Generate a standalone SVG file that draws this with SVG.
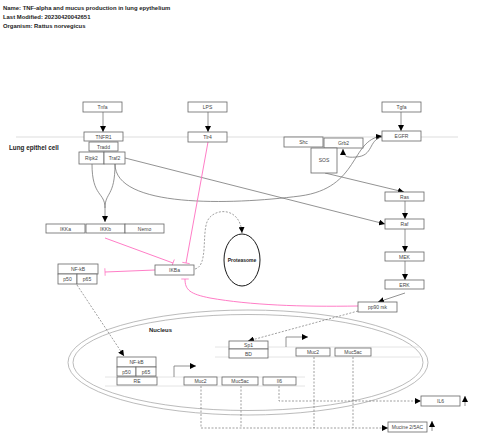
<svg xmlns="http://www.w3.org/2000/svg" width="480" height="448" viewBox="0 0 480 448">
<style>
.t{font-family:"Liberation Sans",Arial,sans-serif;font-weight:bold;font-size:5.9px;fill:#222}
.b rect{fill:#fff;stroke:#666;stroke-width:0.8}
.b text,.l{font-family:"Liberation Sans",Arial,sans-serif;font-size:5px;fill:#444;text-anchor:middle}
.c{fill:none;stroke:#777;stroke-width:0.8}
.p{fill:none;stroke:#ff6ec0;stroke-width:0.9}
.d{fill:none;stroke:#777;stroke-width:0.7;stroke-dasharray:2,1.5}
.m{stroke:#ddd;stroke-width:1}
.g{stroke:#ddd;stroke-width:0.8}
</style>
<defs>
<marker id="a" viewBox="0 0 10 10" refX="10" refY="5" markerWidth="6" markerHeight="6" markerUnits="userSpaceOnUse" orient="auto"><path d="M0,0L10,5L0,10z" fill="#000"/></marker>
<marker id="tb" viewBox="0 0 4 12" refX="2" refY="6" markerWidth="2.5" markerHeight="10" markerUnits="userSpaceOnUse" orient="auto"><path d="M2,0L2,12" stroke="#ff6ec0" stroke-width="1.2"/></marker>
</defs>
<rect width="480" height="448" fill="#fff"/>
<text class="t" x="3" y="10">Name: TNF-alpha and mucus production in lung epythelium</text>
<text class="t" x="3" y="19">Last Modified: 20230420042651</text>
<text class="t" x="3" y="28">Organism: Rattus norvegicus</text>

<g id="cell">
<line class="m" x1="16" y1="137" x2="458" y2="137"/>
<text class="t" x="9" y="150" style="font-size:6.3px">Lung epithel cell</text>
</g>
<g id="nucleus">
<ellipse cx="248" cy="362.5" rx="180" ry="52.5" fill="none" stroke="#aaa" stroke-width="0.8"/>
<ellipse cx="248" cy="362.5" rx="175" ry="48" fill="none" stroke="#aaa" stroke-width="0.8"/>
<text class="t" x="149" y="332">Nucleus</text>
<line class="g" x1="215" y1="347" x2="420" y2="347"/>
<line class="g" x1="215" y1="357" x2="420" y2="357"/>
<line class="g" x1="105" y1="377" x2="305" y2="377"/>
<line class="g" x1="105" y1="386" x2="305" y2="386"/>
</g>

<g id="connectors">
<path class="c" d="M103,112V132" marker-end="url(#a)"/>
<path class="c" d="M208,112V132" marker-end="url(#a)"/>
<path class="c" d="M401,112V131" marker-end="url(#a)"/>
<path class="c" d="M405,201V219" marker-end="url(#a)"/>
<path class="c" d="M405,229V252" marker-end="url(#a)"/>
<path class="c" d="M405,261V280" marker-end="url(#a)"/>
<path class="c" d="M405,293L378,302" marker-end="url(#a)"/>
<path class="c" d="M325,173L404,192" marker-end="url(#a)"/>
<path class="c" d="M125,158L385,224" marker-end="url(#a)"/>
<path class="c" d="M92,164C92,197 105,192 105,208" />
<path class="c" d="M115,164C115,197 105,192 105,208V222" marker-end="url(#a)"/>
<path class="c" d="M115,164C115,208 230,205 300,196C360,188 350,140 382,136" marker-end="url(#a)"/>
<path class="c" d="M382,137C368,140 374,156 356,157C346,158 343,156 343,149" marker-end="url(#a)"/>
<path class="p" d="M208,142L186,263" marker-end="url(#tb)"/>
<path class="p" d="M105,238L173,263" marker-end="url(#tb)"/>
<path class="p" d="M155,270L105,272" marker-end="url(#tb)"/>
<path class="p" d="M358,306C300,307 250,305 210,298C190,294 185,290 185,279" marker-end="url(#tb)"/>
<path class="d" d="M195,269C208,266 202,235 207,222C212,208 240,205 242,233" marker-end="url(#a)"/>
<path class="d" d="M358,311L248,341" marker-end="url(#a)"/>
<path class="d" d="M77,285L124,356" marker-end="url(#a)"/>
<path class="c" d="M174,377V366H196" marker-end="url(#a)"/>
<path class="c" d="M286,347V337H308" marker-end="url(#a)"/>
<path class="d" d="M201,386V428"/>
<path class="d" d="M241,386V428"/>
<path class="d" d="M314,357V428"/>
<path class="d" d="M353,357V428"/>
<path class="d" d="M201,428H388" marker-end="url(#a)"/>
<path class="d" d="M279,386V401H421" marker-end="url(#a)"/>
<path class="c" d="M465,406V396" marker-end="url(#a)"/>
<path class="c" d="M432,431V421" marker-end="url(#a)"/>
</g>

<g id="Tnfa" class="b"><rect x="83" y="102" width="39" height="10"/><text x="102.5" y="109">Tnfa</text></g>
<g id="LPS" class="b"><rect x="188" y="102" width="39" height="10"/><text x="207.5" y="109">LPS</text></g>
<g id="Tgfa" class="b"><rect x="382" y="102" width="39" height="10"/><text x="401.5" y="109">Tgfa</text></g>
<g id="TNFR1" class="b"><rect x="84" y="132" width="39" height="9"/><text x="103.5" y="138.7">TNFR1</text></g>
<g id="Tradd" class="b"><rect x="89" y="142" width="29" height="9"/><text x="103.5" y="148.7">Tradd</text></g>
<g id="Ripk2" class="b"><rect x="79" y="152" width="25" height="12"/><text x="91.5" y="159.8">Ripk2</text></g>
<g id="Traf2" class="b"><rect x="104" y="152" width="21" height="12"/><text x="114.5" y="159.8">Traf2</text></g>
<g id="Tlr4" class="b"><rect x="188" y="132" width="39" height="10"/><text x="207.5" y="139">Tlr4</text></g>
<g id="Shc" class="b"><rect x="284" y="137" width="39" height="10"/><text x="303.5" y="144">Shc</text></g>
<g id="Grb2" class="b"><rect x="324" y="138" width="39" height="10"/><text x="343.5" y="145">Grb2</text></g>
<g id="SOS" class="b"><rect x="311" y="148" width="26" height="25"/><text x="324" y="162">SOS</text></g>
<g id="EGFR" class="b"><rect x="382" y="131" width="39" height="10"/><text x="401.5" y="138">EGFR</text></g>
<g id="IKKa" class="b"><rect x="46" y="224" width="39" height="9"/><text x="65.5" y="230.7">IKKa</text></g>
<g id="IKKb" class="b"><rect x="86" y="224" width="39" height="9"/><text x="105.5" y="230.7">IKKb</text></g>
<g id="Nemo" class="b"><rect x="125" y="224" width="39" height="9"/><text x="144.5" y="230.7">Nemo</text></g>
<g id="NFkB" class="b"><rect x="58" y="264" width="40" height="10"/><text x="78" y="271">NF-kB</text><rect x="58" y="274" width="19" height="10"/><text x="67.5" y="281">p50</text><rect x="77" y="274" width="20" height="10"/><text x="87" y="281">p65</text></g>
<g id="IKBa" class="b"><rect x="155" y="265" width="39" height="10"/><text x="174.5" y="272">IKBa</text></g>
<g id="Proteasome"><ellipse cx="242" cy="260" rx="18" ry="26" fill="#fff" stroke="#000" stroke-width="0.9"/><text class="l" x="242" y="262" style="font-weight:bold;fill:#222">Proteasome</text></g>
<g id="Ras" class="b"><rect x="385" y="192" width="39" height="9"/><text x="404.5" y="198.7">Ras</text></g>
<g id="Raf" class="b"><rect x="385" y="219" width="39" height="10"/><text x="404.5" y="226">Raf</text></g>
<g id="MEK" class="b"><rect x="385" y="252" width="39" height="9"/><text x="404.5" y="258.7">MEK</text></g>
<g id="ERK" class="b"><rect x="385" y="280" width="39" height="9"/><text x="404.5" y="286.7">ERK</text></g>
<g id="pp90rsk" class="b"><rect x="358" y="302" width="39" height="10"/><text x="377.5" y="309">pp90 rsk</text></g>
<g id="Sp1" class="b"><rect x="229" y="341" width="39" height="8"/><text x="248.5" y="347">Sp1</text><rect x="229" y="349" width="39" height="9"/><text x="248.5" y="355.5">BD</text></g>
<g id="Muc2up" class="b"><rect x="296" y="348" width="34" height="8"/><text x="313" y="354">Muc2</text></g>
<g id="Muc5acup" class="b"><rect x="335" y="348" width="36" height="8"/><text x="353" y="354">Muc5ac</text></g>
<g id="NFkBn" class="b"><rect x="117" y="357" width="39" height="10"/><text x="136.5" y="364">NF-kB</text><rect x="117" y="367" width="19" height="9"/><text x="126.5" y="373.5">p50</text><rect x="136" y="367" width="20" height="9"/><text x="146" y="373.5">p65</text></g>
<g id="RE" class="b"><rect x="117" y="377" width="40" height="8"/><text x="137" y="383">RE</text></g>
<g id="Muc2lo" class="b"><rect x="184" y="377" width="33" height="8"/><text x="200.5" y="383">Muc2</text></g>
<g id="Muc5aclo" class="b"><rect x="222" y="377" width="36" height="8"/><text x="240" y="383">Muc5ac</text></g>
<g id="Il6gene" class="b"><rect x="263" y="377" width="33" height="8"/><text x="279.5" y="383">Il6</text></g>
<g id="IL6" class="b"><rect x="421" y="396" width="39" height="10"/><text x="440.5" y="403">IL6</text></g>
<g id="Mucine" class="b"><rect x="388" y="422" width="39" height="10"/><text x="407.5" y="429">Mucine 2/5AC</text></g>
</svg>
